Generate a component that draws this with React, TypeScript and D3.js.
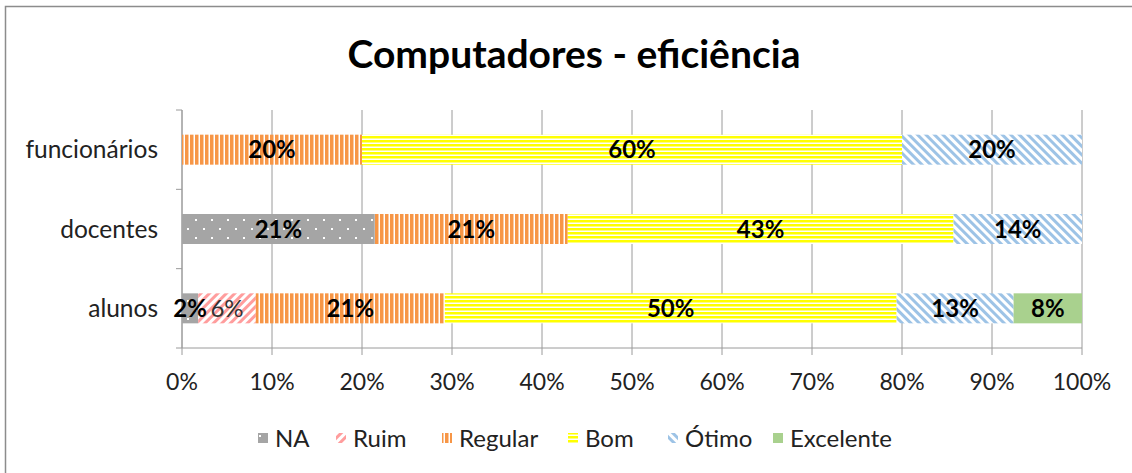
import React from "react";
import * as d3 from "d3";

const categories = ["funcionários", "docentes", "alunos"];
const seriesNames = ["NA", "Ruim", "Regular", "Bom", "Ótimo", "Excelente"];
const naValues = [0, 21.43, 1.8];
const ruimValues = [0, 0, 6.4];
const regularValues = [20, 21.43, 21.0];
const bomValues = [60, 42.86, 50.2];
const otimoValues = [20, 14.28, 13.0];
const excelenteValues = [0, 0, 7.6];
const xTicks = [0, 10, 20, 30, 40, 50, 60, 70, 80, 90, 100];

const FONT = "Lato, 'Open Sans', sans-serif";
const W = 1132;
const H = 473;

const fills = ["url(#pNA)", "url(#pRuim)", "url(#pRegular)", "url(#pBom)", "url(#pOtimo)", "#a9d18e"];

export default function App() {
  const allSeries = [naValues, ruimValues, regularValues, bomValues, otimoValues, excelenteValues];
  const x = d3.scaleLinear().domain([0, 100]).range([182, 1082]);
  const y = d3.scaleBand<string>().domain(categories).range([110, 348]).padding(0);
  const bw = y.bandwidth();
  const barH = 30;

  const rows = categories.map((c, i) => {
    const vals = allSeries.map((s) => s[i]);
    const stack: { s: number; x0: number; x1: number; v: number }[] = [];
    let acc = 0;
    vals.forEach((v, s) => {
      stack.push({ s, x0: acc, x1: acc + v, v });
      acc += v;
    });
    return { c, stack };
  });

  const legendX = [258, 336, 442, 568, 668, 773];

  return (
    <svg width={W} height={H} style={{ position: "absolute", left: 0, top: 0, fontFamily: FONT }}>
      <defs>
        <pattern id="pNA" width="16" height="18" patternUnits="userSpaceOnUse">
          <rect width="16" height="18" fill="#a5a5a5" />
          <rect x="3" y="3" width="2" height="2" fill="#ffffff" />
          <rect x="11" y="12" width="2" height="2" fill="#ffffff" />
        </pattern>
        <pattern id="pRuim" width="6" height="6" patternUnits="userSpaceOnUse" patternTransform="rotate(45)">
          <rect width="6" height="6" fill="#ffffff" />
          <rect width="3" height="6" fill="#ff9d9d" />
        </pattern>
        <pattern id="pRegular" width="5" height="6" patternUnits="userSpaceOnUse">
          <rect width="5" height="6" fill="#ffffff" />
          <rect width="3.5" height="6" fill="#f79646" />
        </pattern>
        <pattern id="pBom" width="6" height="4" patternUnits="userSpaceOnUse">
          <rect width="6" height="4" fill="#ffffff" />
          <rect width="6" height="2.5" fill="#ffff00" />
        </pattern>
        <pattern id="pOtimo" width="6" height="6" patternUnits="userSpaceOnUse" patternTransform="rotate(-45)">
          <rect width="6" height="6" fill="#ffffff" />
          <rect width="3" height="6" fill="#9dc3e6" />
        </pattern>
      </defs>
      <rect x={0} y={0} width={W} height={H} fill="#ffffff" />
      <rect x={5.5} y={6.5} width={W + 10} height={H + 10} fill="none" stroke="#8c8c8c" strokeWidth={1.5} />

      <text x={574} y={68} textAnchor="middle" fontSize={39} fontWeight="bold" fill="#000">
        Computadores - eficiência
      </text>

      {/* gridlines */}
      {xTicks.map((t) => (
        <line key={t} x1={x(t)} x2={x(t)} y1={110} y2={355} stroke="#9a9a9a" strokeWidth={1} />
      ))}
      {/* y axis */}
      <line x1={182} x2={182} y1={110} y2={348} stroke="#9a9a9a" />
      {[...categories.map((c) => y(c)!), 348].map((v, i) => (
        <line key={i} x1={176} x2={182} y1={v} y2={v} stroke="#9a9a9a" />
      ))}
      {/* x axis */}
      <line x1={182} x2={1082} y1={348} y2={348} stroke="#9a9a9a" />

      {/* bars */}
      {rows.map((r) =>
        r.stack
          .filter((d) => d.v > 0)
          .map((d) => (
            <rect
              key={r.c + d.s}
              x={x(d.x0)}
              y={y(r.c)! + (bw - barH) / 2}
              width={x(d.x1) - x(d.x0)}
              height={barH}
              fill={fills[d.s]}
            />
          ))
      )}
      {/* labels */}
      {rows.map((r) =>
        r.stack
          .filter((d) => d.v > 0)
          .map((d) => (
            <text
              key={"l" + r.c + d.s}
              x={(x(d.x0) + x(d.x1)) / 2}
              y={y(r.c)! + bw / 2}
              dy="0.36em"
              textAnchor="middle"
              fontSize={24}
              fontWeight={d.s === 1 ? "normal" : "bold"}
              fill={d.s === 1 ? "#333" : "#000"}
            >
              {Math.round(d.v)}%
            </text>
          ))
      )}

      {/* category labels */}
      {categories.map((c) => (
        <text key={c} x={158} y={y(c)! + bw / 2} dy="0.36em" textAnchor="end" fontSize={24.5} fill="#222">
          {c}
        </text>
      ))}
      {/* x tick labels */}
      {xTicks.map((t) => (
        <text key={"t" + t} x={x(t)} y={382} dy="0.36em" textAnchor="middle" fontSize={23} fill="#222">
          {t}%
        </text>
      ))}

      {/* legend */}
      {seriesNames.map((n, i) => (
        <g key={n}>
          <rect x={legendX[i]} y={433} width={10} height={10} fill={fills[i]} />
          <text x={legendX[i] + 17} y={438} dy="0.36em" fontSize={24} fill="#222">
            {n}
          </text>
        </g>
      ))}
    </svg>
  );
}
